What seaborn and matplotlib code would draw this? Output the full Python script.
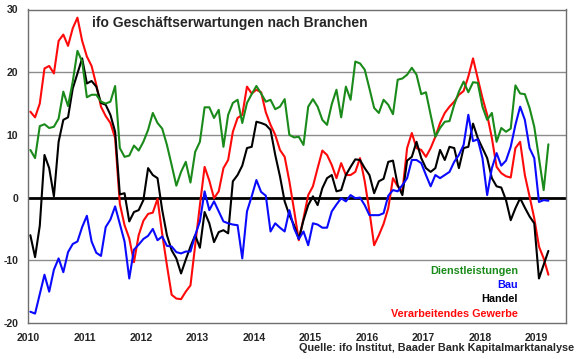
# ifo Geschäftserwartungen nach Branchen

import matplotlib
matplotlib.use("Agg")
import numpy as np
import pandas as pd
import matplotlib.pyplot as plt
import seaborn as sns

# monthly values Jan 2010 - Mar 2019
dienstleistungen = [
    7.6, 6.3, 11.4, 11.7, 11.1, 11.3, 12.6, 16.9, 14.6, 18.5,
    23.4, 21.7, 16.0, 16.4, 16.4, 15.3, 15.0, 15.3, 17.8, 7.9,
    6.5, 6.7, 8.3, 7.5, 8.9, 10.8, 13.5, 11.9, 11.0, 8.4,
    5.2, 1.9, 4.1, 5.7, 2.4, 7.3, 8.9, 14.4, 14.4, 12.7,
    14.0, 8.1, 13.2, 15.1, 15.6, 11.9, 15.1, 16.5, 17.8, 16.6,
    15.3, 15.6, 14.1, 14.5, 15.7, 10.0, 9.6, 9.7, 8.4, 14.5,
    15.7, 14.5, 12.4, 11.6, 14.9, 17.2, 12.8, 17.7, 15.6, 21.7,
    21.4, 20.4, 17.4, 14.3, 13.5, 15.6, 14.8, 13.3, 18.8, 19.0,
    19.6, 20.7, 19.6, 16.5, 16.8, 13.2, 9.7, 11.1, 12.1, 12.2,
    14.8, 16.9, 18.5, 16.8, 18.4, 18.3, 14.5, 12.4, 13.5, 8.9,
    11.1, 10.5, 11.0, 17.9, 16.6, 16.5, 14.3, 11.3, 6.3, 1.2, 8.5,
]
bau = [
    -18.2, -18.5, -15.4, -12.3, -15.0, -11.5, -9.7, -11.9, -8.7, -7.4,
    -7.0, -4.7, -2.9, -7.0, -8.8, -9.3, -4.7, -3.5, -1.4, -4.2,
    -7.0, -12.9, -8.3, -7.5, -6.6, -6.1, -5.0, -6.8, -6.2, -7.7,
    -7.8, -8.7, -8.9, -8.6, -8.6, -6.0, -3.8, 1.0, -2.0, -0.6,
    -2.2, -3.8, -4.1, -4.3, -4.4, -9.7, -2.2, 0.2, 2.8, 0.9,
    0.3, -5.4, -4.1, -4.8, -5.4, -2.0, -4.9, -6.6, -5.4, -7.6,
    -4.1, -4.3, -4.8, -4.8, -2.2, -1.1, -0.1, -0.6, 0.4, -0.1,
    0.0, -1.2, -2.8, -2.8, -2.8, -2.5, 0.3, 1.2, 1.0, 2.0,
    3.1, 6.0, 6.0, 5.5, 3.6, 1.8, 3.6, 3.1, 3.6, 4.1,
    5.7, 6.8, 8.4, 13.2, 9.0, 9.3, 6.3, 0.4, 4.7, 7.1,
    5.1, 5.9, 8.1, 11.6, 14.5, 12.4, 7.9, 6.3, -0.7, -0.4, -0.5,
]
handel = [
    -6.0, -9.5, -4.5, 6.8, 4.7, 0.2, 8.9, 12.4, 12.8, 17.4,
    19.8, 22.2, 18.2, 18.6, 17.7, 15.1, 14.8, 13.2, 10.5, 0.5,
    0.7, -3.8, -2.3, -2.0, -0.4, 4.7, 3.6, 3.1, -2.0, -6.0,
    -8.4, -9.7, -12.1, -9.9, -7.8, -6.0, -8.0, -2.3, -4.1, -7.1,
    -5.5, -5.2, -5.7, 2.6, 3.6, 5.1, 7.9, 8.1, 12.1, 11.9,
    11.6, 10.8, 6.8, 3.4, -0.6, -2.8, -4.4, -6.6, -3.6, -1.2,
    0.2, -1.2, 1.5, 3.1, 3.6, 1.0, 1.2, 3.6, 4.9, 6.1,
    6.0, 4.7, 3.6, 0.7, 2.6, 3.0, 5.7, 5.9, 2.0, 0.4,
    5.9, 6.5, 8.9, 6.3, 4.7, 4.1, 4.7, 7.6, 6.0, 8.1,
    7.9, 4.7, 7.9, 8.1, 11.8, 9.5, 7.9, 6.3, 3.1, 1.8,
    1.6, -0.4, -3.6, -1.7, -0.1, -1.6, -3.0, -4.1, -12.9, -10.7, -8.5,
]
verarbeitendes = [
    13.7, 12.8, 15.0, 20.6, 21.0, 19.8, 25.0, 26.0, 24.2, 27.0,
    28.7, 25.0, 22.5, 21.0, 18.0, 14.5, 13.0, 11.9, 9.5, -1.0,
    -4.4, -6.5, -10.3, -6.0, -3.7, -2.6, -2.4, -0.2, -5.8, -10.8,
    -15.5, -16.1, -16.2, -15.0, -14.0, -7.6, -1.2, 4.9, 2.7, -0.1,
    1.0, 4.7, 6.0, 10.5, 12.7, 13.2, 17.7, 16.6, 17.2, 16.8,
    13.6, 11.6, 10.0, 7.6, 6.5, 2.6, -2.0, -6.8, -3.3, 0.4,
    1.8, 4.7, 7.5, 6.8, 5.2, 3.1, 5.5, 3.6, 3.6, 4.1,
    6.3, 2.6, -2.2, -7.6, -6.0, -4.2, -1.7, 3.1, 1.8, 1.0,
    7.9, 10.3, 7.9, 7.6, 6.5, 7.9, 9.7, 11.9, 13.5, 14.5,
    15.3, 16.4, 17.0, 19.3, 22.2, 19.0, 15.9, 13.2, 9.5, 4.9,
    3.9, 3.4, 3.2, 7.9, 8.9, 3.6, 0.2, -3.3, -7.8, -9.7, -12.3,
]

series_names = ["Dienstleistungen", "Bau", "Handel", "Verarbeitendes Gewerbe"]
colors = {"Dienstleistungen": "#1a8a1a", "Bau": "#0a0aff",
          "Handel": "#000000", "Verarbeitendes Gewerbe": "#ff0a0a"}
years = list(range(2010, 2020))

# long format table
months = pd.date_range("2010-01-01", periods=len(bau), freq="MS")
t = months.year + (months.month - 0.5) / 12
df = pd.concat([
    pd.DataFrame({"t": t, "wert": vals, "branche": name})
    for name, vals in zip(series_names,
                          [dienstleistungen, bau, handel, verarbeitendes])
])

sns.set_style("white")
plt.rcParams["font.family"] = ["Liberation Sans", "DejaVu Sans"]
plt.rcParams["font.weight"] = "bold"

W, H = 580, 359
fig = plt.figure(figsize=(W / 100, H / 100), dpi=100)
ax = fig.add_axes([28 / W, 1 - 323 / H, (566 - 28) / W, (323 - 9.5) / H])

# grid lines
for yv in [-10, 10, 20]:
    ax.axhline(yv, color="#8c8c8c", lw=1.0, zorder=0)

sns.lineplot(data=df, x="t", y="wert", hue="branche", hue_order=series_names[::-1],
             palette=colors, linewidth=1.5, legend=False, ax=ax, zorder=3)
ax.axhline(0, color="black", lw=2.0, zorder=2)

ax.set_xlim(2010, 2019.52)
ax.set_ylim(-20, 30)
ax.set_xticks(years)
ax.set_xticklabels([str(y) for y in years], fontsize=7.6, fontweight="bold")
ax.set_yticks(range(-20, 31, 10))
ax.set_yticklabels([str(v) for v in range(-20, 31, 10)], fontsize=7.6, fontweight="bold")
ax.tick_params(axis="x", length=3, width=0.8, color="#6e6e6e", pad=4, direction="out")
ax.tick_params(axis="y", length=0, pad=7)
ax.set_xlabel("")
ax.set_ylabel("")
for s in ax.spines.values():
    s.set_color("#6e6e6e")
    s.set_linewidth(1.0)

# title and labels
fig.text(92 / W, 1 - 23.5 / H, "ifo Geschäftserwartungen nach Branchen",
         fontsize=10, fontweight="bold", va="center", ha="left")
label_y = [270.7, 285, 299.3, 314]
for name, yy in zip(series_names, label_y):
    fig.text(518 / W, 1 - yy / H, name, color=colors[name], fontsize=7.8,
             fontweight="bold", ha="right", va="center")
fig.text(574 / W, 1 - 347.7 / H, "Quelle: ifo Institut, Baader Bank Kapitalmarktanalyse",
         fontsize=7.8, fontweight="bold", ha="right", va="center")

fig.savefig("out.png", dpi=100)
